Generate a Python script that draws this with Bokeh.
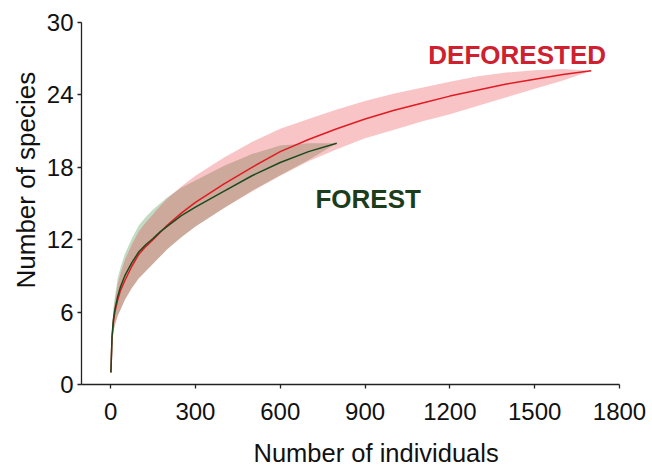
from bokeh.plotting import figure
from bokeh.models import Range1d, FixedTicker, Title
from bokeh.core.properties import value
from bokeh.embed import file_html
from bokeh.resources import INLINE

# ---- data ----
def_x = [1, 5, 10, 15, 25, 35, 50, 75, 100, 125, 150, 175, 200, 250, 300, 400, 500, 600, 700, 800,
         900, 1000, 1100, 1200, 1300, 1400, 1500, 1600, 1700]
def_y = [1, 3.8, 5.2, 6.0, 7.0, 7.8, 8.6, 9.8, 10.8, 11.45, 12.0, 12.6, 13.2, 14.2, 15.1, 16.6,
         18.0, 19.3, 20.3, 21.2, 22.0, 22.7, 23.3, 23.9, 24.4, 24.9, 25.3, 25.7, 26.0]
def_hi = [1, 4.3, 6.0, 6.9, 8.3, 9.2, 10.3, 11.6, 12.7, 13.45, 14.1, 14.8, 15.4, 16.4, 17.3, 18.8,
          20.1, 21.2, 22.0, 22.8, 23.5, 24.1, 24.6, 25.1, 25.55, 25.85, 26.05, 26.15, 26.0]
def_lo = [1, 3.3, 4.4, 4.9, 5.7, 6.2, 7.0, 8.0, 8.8, 9.4, 10.0, 10.6, 11.2, 12.2, 13.1, 14.6,
          16.0, 17.3, 18.5, 19.5, 20.4, 21.1, 21.8, 22.4, 23.1, 23.8, 24.5, 25.2, 26.0]

for_x = [1, 5, 10, 15, 25, 35, 50, 75, 100, 125, 150, 175, 200, 250, 300, 400, 500, 600, 700, 800]
for_y = [1, 4.0, 5.4, 6.2, 7.3, 8.1, 9.0, 10.1, 11.0, 11.6, 12.1, 12.65, 13.1, 14.0, 14.7, 16.0,
         17.3, 18.4, 19.3, 20.0]
for_hi = [1, 4.6, 6.4, 7.3, 8.8, 9.7, 10.8, 12.1, 13.2, 13.9, 14.5, 15.0, 15.5, 16.3, 16.9, 18.1,
          19.1, 19.8, 20.0, 20.0]
for_lo = [1, 3.3, 4.4, 4.9, 5.7, 6.2, 7.0, 8.0, 8.8, 9.4, 10.0, 10.6, 11.2, 12.2, 13.1, 14.6,
          16.05, 17.35, 18.6, 20.0]

x_ticks = [0, 300, 600, 900, 1200, 1500, 1800]
y_ticks = [0, 6, 12, 18, 24, 30]

labels = ["DEFORESTED", "FOREST"]
label_x = [1438, 911]
label_y = [27.3, 15.4]

x_title = "Number of individuals"
y_title = "Number of species"

FONT = "Liberation Sans"

p = figure(width=652, height=467, x_range=Range1d(-103, 1800), y_range=Range1d(0, 30),
           output_backend="svg", toolbar_location=None,
           min_border_left=81, min_border_right=33, min_border_top=22, min_border_bottom=83)
p.outline_line_color = None
p.grid.visible = False
p.background_fill_color = "white"

# bands
p.varea(x=for_x, y1=for_lo, y2=for_hi, fill_color="#c2dbc3", fill_alpha=1.0)
p.varea(x=def_x, y1=def_lo, y2=def_hi, fill_color="#e8262d", fill_alpha=0.27)
# lines
p.line(def_x, def_y, line_color="#e01b22", line_width=1.5)
p.line(for_x, for_y, line_color="#1b4a1e", line_width=1.5)

p.text(x=label_x, y=label_y, text=labels, text_color=["#cf2030", "#1c3d1c"],
       text_font=value(FONT), text_font_style="bold", text_font_size="26px",
       text_align="center", text_baseline="alphabetic")

for ax in (p.xaxis[0], p.yaxis[0]):
    ax.axis_line_color = "#222222"
    ax.axis_line_width = 1.3
    ax.major_tick_line_color = "#222222"
    ax.major_tick_line_width = 1.3
    ax.major_tick_out = 4
    ax.major_tick_in = 0
    ax.minor_tick_out = 0
    ax.minor_tick_in = 0
    ax.major_label_text_font = FONT
    ax.major_label_text_font_size = "24px"
    ax.major_label_text_color = "#111111"

p.xaxis.ticker = FixedTicker(ticks=x_ticks)
p.yaxis.ticker = FixedTicker(ticks=y_ticks)
p.xaxis.major_label_standoff = 14
p.yaxis.major_label_standoff = 4
# blank spacer label to push the x title further down
p.xaxis.axis_label = " "
p.xaxis.axis_label_text_font_size = "1px"
p.xaxis.axis_label_standoff = 10

p.add_layout(Title(text=x_title, align="left", offset=172,
                   text_font=FONT, text_font_size="25.5px", text_font_style="normal",
                   text_color="#111111", standoff=0), "below")
p.add_layout(Title(text=y_title, align="left", offset=96,
                   text_font=FONT, text_font_size="26px", text_font_style="normal",
                   text_color="#111111", standoff=6), "left")

open("out.html", "w").write(file_html(p, INLINE))
